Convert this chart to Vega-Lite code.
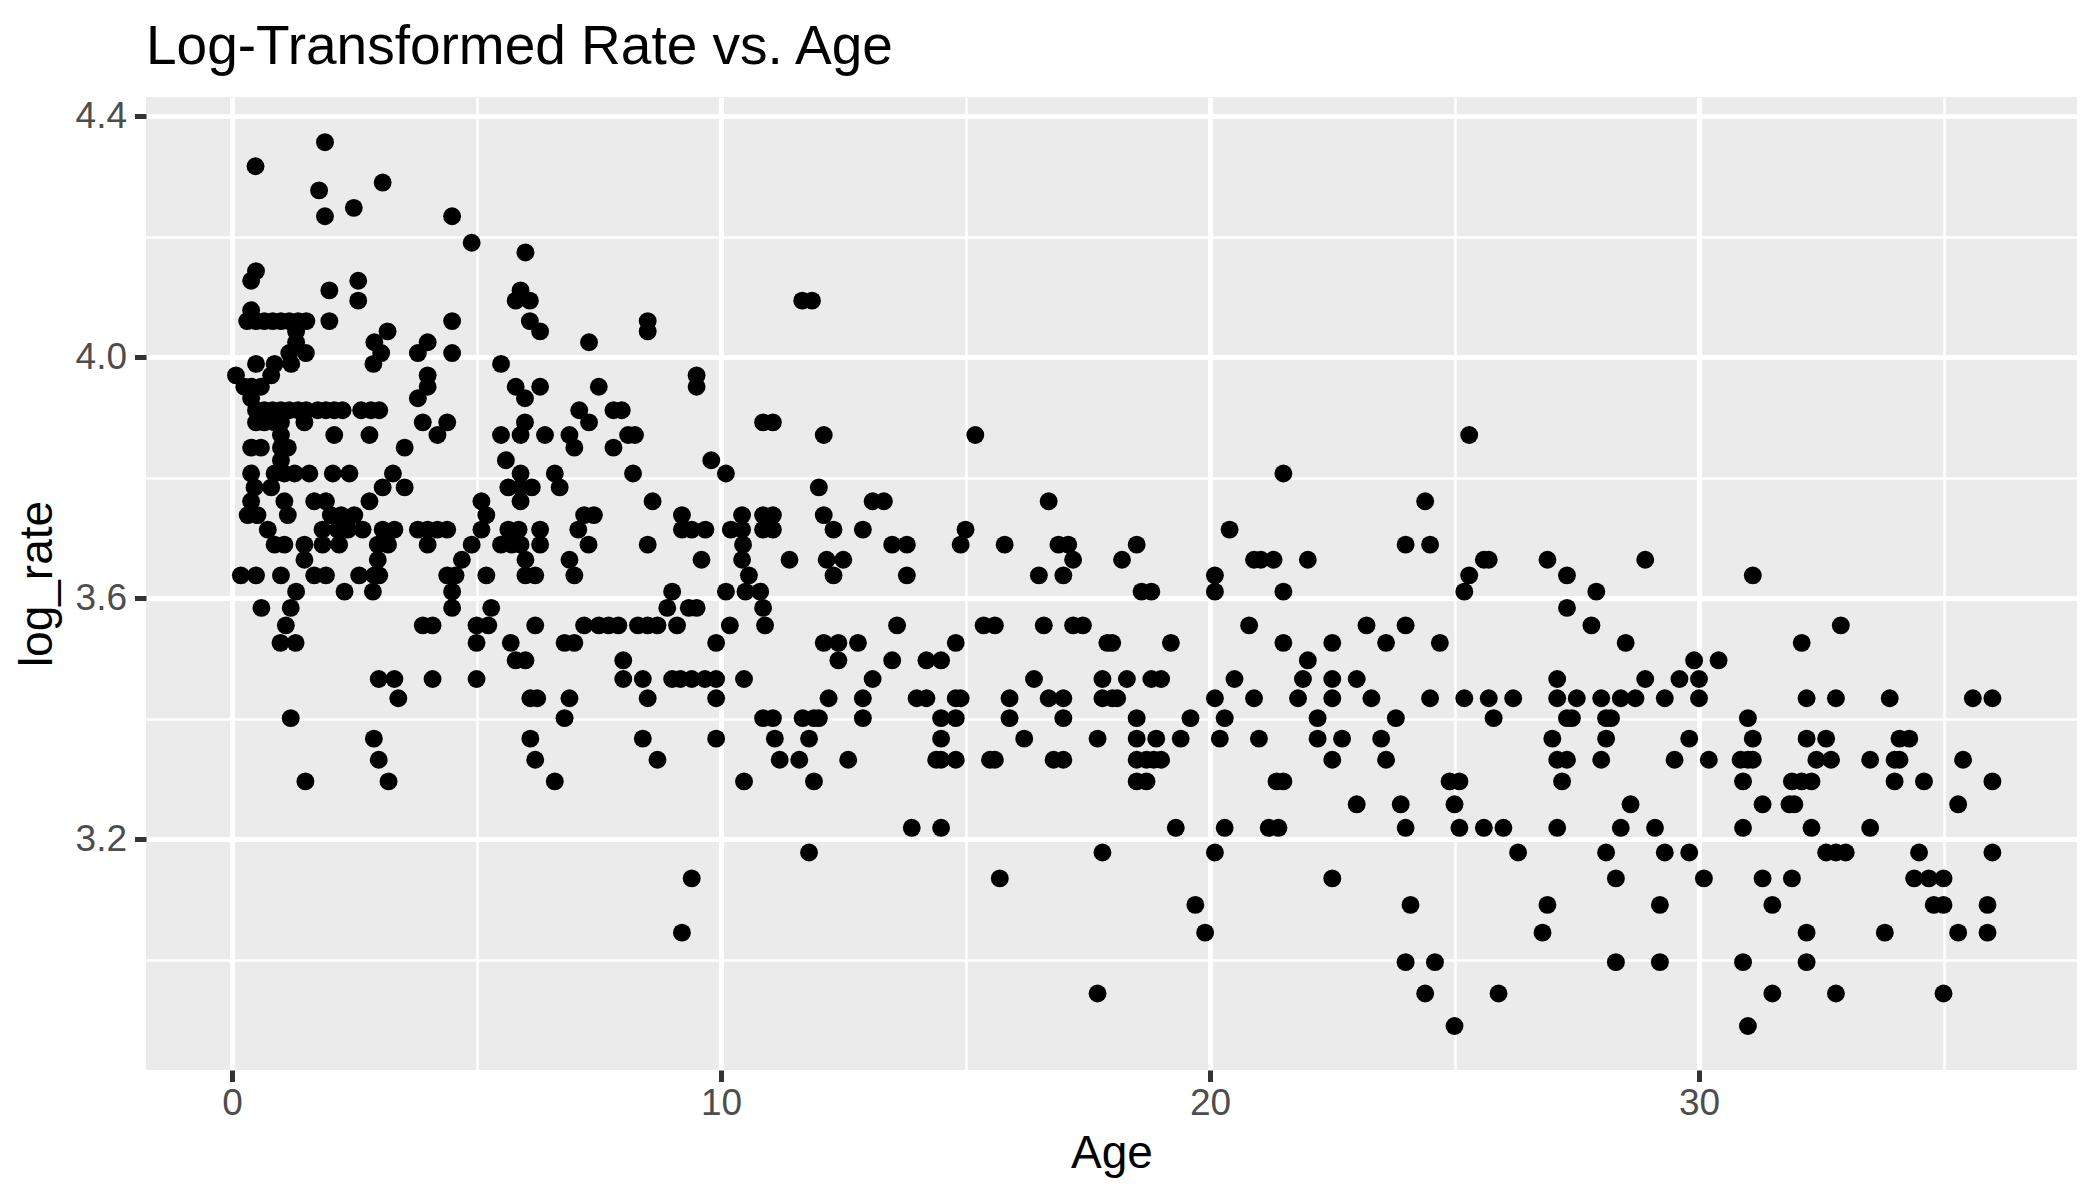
{
  "$schema": "https://vega.github.io/schema/vega-lite/v6.json",
  "width": 1931,
  "height": 973,
  "autosize": "none",
  "padding": {"left": 146, "top": 97, "right": 23, "bottom": 130},
  "background": "white",
  "config": {
    "font": "Liberation Sans",
    "view": {"fill": "#EBEBEB", "stroke": null}
  },
  "title": {
    "text": "Log-Transformed Rate vs. Age",
    "anchor": "start",
    "frame": "group",
    "fontSize": 55,
    "fontWeight": "normal",
    "color": "black",
    "baseline": "alphabetic",
    "offset": -22
  },
  "datasets": {
    "rates": [
      {"Age":1.9,"log_rate":4.357},{"Age":0.48,"log_rate":4.317},{"Age":3.08,"log_rate":4.290},{"Age":1.78,"log_rate":4.277},
      {"Age":2.49,"log_rate":4.248},{"Age":1.9,"log_rate":4.234},{"Age":4.5,"log_rate":4.234},{"Age":4.9,"log_rate":4.190},
      {"Age":6.0,"log_rate":4.174},{"Age":0.49,"log_rate":4.143},{"Age":0.39,"log_rate":4.127},{"Age":2.58,"log_rate":4.127},
      {"Age":1.99,"log_rate":4.111},{"Age":5.9,"log_rate":4.111},
      {"Age":2.58,"log_rate":4.094},{"Age":5.8,"log_rate":4.094},{"Age":6.09,"log_rate":4.094},{"Age":11.66,"log_rate":4.094},{"Age":11.86,"log_rate":4.094},
      {"Age":0.39,"log_rate":4.078},
      {"Age":0.31,"log_rate":4.060},{"Age":0.49,"log_rate":4.060},{"Age":0.66,"log_rate":4.060},{"Age":0.83,"log_rate":4.060},{"Age":1.0,"log_rate":4.060},
      {"Age":1.17,"log_rate":4.060},{"Age":1.35,"log_rate":4.060},{"Age":1.52,"log_rate":4.060},{"Age":1.99,"log_rate":4.060},{"Age":6.09,"log_rate":4.060},
      {"Age":4.5,"log_rate":4.060},{"Age":8.5,"log_rate":4.060},
      {"Age":3.18,"log_rate":4.043},{"Age":1.31,"log_rate":4.043},{"Age":6.3,"log_rate":4.043},{"Age":8.5,"log_rate":4.043},
      {"Age":2.91,"log_rate":4.025},{"Age":1.31,"log_rate":4.025},{"Age":4.0,"log_rate":4.025},{"Age":7.3,"log_rate":4.025},
      {"Age":3.05,"log_rate":4.007},{"Age":1.51,"log_rate":4.007},{"Age":1.17,"log_rate":4.007},{"Age":4.5,"log_rate":4.007},{"Age":3.8,"log_rate":4.007},
      {"Age":2.89,"log_rate":3.989},{"Age":1.21,"log_rate":3.989},{"Age":0.49,"log_rate":3.989},{"Age":0.87,"log_rate":3.989},{"Age":5.5,"log_rate":3.989},
      {"Age":0.8,"log_rate":3.970},{"Age":0.08,"log_rate":3.970},{"Age":4.0,"log_rate":3.970},{"Age":9.5,"log_rate":3.970},
      {"Age":0.25,"log_rate":3.951},{"Age":0.39,"log_rate":3.951},{"Age":0.59,"log_rate":3.951},{"Age":4.0,"log_rate":3.951},{"Age":5.8,"log_rate":3.951},
      {"Age":6.3,"log_rate":3.951},{"Age":7.5,"log_rate":3.951},{"Age":9.5,"log_rate":3.951},
      {"Age":0.39,"log_rate":3.932},{"Age":3.8,"log_rate":3.932},{"Age":5.99,"log_rate":3.932},
      {"Age":0.49,"log_rate":3.912},{"Age":0.66,"log_rate":3.912},{"Age":0.83,"log_rate":3.912},{"Age":1.0,"log_rate":3.912},{"Age":1.17,"log_rate":3.912},
      {"Age":1.35,"log_rate":3.912},{"Age":1.52,"log_rate":3.912},{"Age":1.75,"log_rate":3.912},{"Age":1.92,"log_rate":3.912},{"Age":2.09,"log_rate":3.912},
      {"Age":2.26,"log_rate":3.912},{"Age":2.64,"log_rate":3.912},{"Age":2.84,"log_rate":3.912},{"Age":3.01,"log_rate":3.912},{"Age":7.1,"log_rate":3.912},
      {"Age":7.8,"log_rate":3.912},{"Age":7.97,"log_rate":3.912},
      {"Age":0.49,"log_rate":3.892},{"Age":0.66,"log_rate":3.892},{"Age":0.87,"log_rate":3.892},{"Age":1.0,"log_rate":3.892},{"Age":1.48,"log_rate":3.892},
      {"Age":7.3,"log_rate":3.892},{"Age":3.9,"log_rate":3.892},{"Age":4.4,"log_rate":3.892},{"Age":5.99,"log_rate":3.892},{"Age":10.86,"log_rate":3.892},
      {"Age":11.06,"log_rate":3.892},
      {"Age":1.0,"log_rate":3.871},{"Age":2.09,"log_rate":3.871},{"Age":2.81,"log_rate":3.871},{"Age":4.2,"log_rate":3.871},{"Age":5.5,"log_rate":3.871},
      {"Age":5.9,"log_rate":3.871},{"Age":6.4,"log_rate":3.871},{"Age":6.9,"log_rate":3.871},{"Age":8.1,"log_rate":3.871},{"Age":8.24,"log_rate":3.871},
      {"Age":12.1,"log_rate":3.871},{"Age":15.2,"log_rate":3.871},{"Age":25.3,"log_rate":3.871},
      {"Age":0.39,"log_rate":3.850},{"Age":0.59,"log_rate":3.850},{"Age":1.0,"log_rate":3.850},{"Age":1.14,"log_rate":3.850},{"Age":7.0,"log_rate":3.850},
      {"Age":7.8,"log_rate":3.850},{"Age":3.53,"log_rate":3.850},
      {"Age":1.0,"log_rate":3.829},{"Age":5.6,"log_rate":3.829},{"Age":9.8,"log_rate":3.829},
      {"Age":0.39,"log_rate":3.807},{"Age":0.87,"log_rate":3.807},{"Age":1.07,"log_rate":3.807},{"Age":1.28,"log_rate":3.807},{"Age":1.58,"log_rate":3.807},
      {"Age":2.06,"log_rate":3.807},{"Age":2.4,"log_rate":3.807},{"Age":3.29,"log_rate":3.807},{"Age":10.1,"log_rate":3.807},{"Age":5.9,"log_rate":3.807},
      {"Age":6.6,"log_rate":3.807},{"Age":8.2,"log_rate":3.807},{"Age":21.5,"log_rate":3.807},
      {"Age":0.46,"log_rate":3.784},{"Age":0.8,"log_rate":3.784},{"Age":3.08,"log_rate":3.784},{"Age":3.53,"log_rate":3.784},{"Age":5.65,"log_rate":3.784},
      {"Age":5.9,"log_rate":3.784},{"Age":6.13,"log_rate":3.784},{"Age":6.7,"log_rate":3.784},{"Age":12.0,"log_rate":3.784},
      {"Age":0.39,"log_rate":3.761},{"Age":1.07,"log_rate":3.761},{"Age":1.68,"log_rate":3.761},{"Age":1.92,"log_rate":3.761},{"Age":2.81,"log_rate":3.761},
      {"Age":5.9,"log_rate":3.761},{"Age":5.1,"log_rate":3.761},{"Age":8.6,"log_rate":3.761},{"Age":13.1,"log_rate":3.761},{"Age":13.33,"log_rate":3.761},
      {"Age":16.7,"log_rate":3.761},{"Age":24.4,"log_rate":3.761},
      {"Age":0.32,"log_rate":3.738},{"Age":0.52,"log_rate":3.738},{"Age":1.14,"log_rate":3.738},{"Age":2.02,"log_rate":3.738},{"Age":2.23,"log_rate":3.738},
      {"Age":2.5,"log_rate":3.738},{"Age":5.2,"log_rate":3.738},{"Age":7.2,"log_rate":3.738},{"Age":7.4,"log_rate":3.738},{"Age":9.2,"log_rate":3.738},
      {"Age":10.43,"log_rate":3.738},{"Age":10.86,"log_rate":3.738},{"Age":11.06,"log_rate":3.738},{"Age":12.1,"log_rate":3.738},
      {"Age":0.73,"log_rate":3.714},{"Age":1.85,"log_rate":3.714},{"Age":2.16,"log_rate":3.714},{"Age":2.37,"log_rate":3.714},{"Age":2.67,"log_rate":3.714},
      {"Age":3.08,"log_rate":3.714},{"Age":3.32,"log_rate":3.714},{"Age":3.8,"log_rate":3.714},{"Age":4.0,"log_rate":3.714},{"Age":4.2,"log_rate":3.714},
      {"Age":4.4,"log_rate":3.714},{"Age":5.1,"log_rate":3.714},{"Age":5.65,"log_rate":3.714},{"Age":5.86,"log_rate":3.714},{"Age":6.3,"log_rate":3.714},
      {"Age":7.08,"log_rate":3.714},{"Age":9.2,"log_rate":3.714},{"Age":9.4,"log_rate":3.714},{"Age":9.68,"log_rate":3.714},{"Age":10.2,"log_rate":3.714},
      {"Age":10.43,"log_rate":3.714},{"Age":10.86,"log_rate":3.714},{"Age":11.06,"log_rate":3.714},{"Age":12.3,"log_rate":3.714},{"Age":12.9,"log_rate":3.714},
      {"Age":15.0,"log_rate":3.714},{"Age":20.4,"log_rate":3.714},
      {"Age":0.87,"log_rate":3.689},{"Age":1.07,"log_rate":3.689},{"Age":1.48,"log_rate":3.689},{"Age":1.85,"log_rate":3.689},{"Age":2.19,"log_rate":3.689},
      {"Age":2.98,"log_rate":3.689},{"Age":3.19,"log_rate":3.689},{"Age":4.0,"log_rate":3.689},{"Age":4.9,"log_rate":3.689},{"Age":5.5,"log_rate":3.689},
      {"Age":5.72,"log_rate":3.689},{"Age":5.9,"log_rate":3.689},{"Age":6.3,"log_rate":3.689},{"Age":7.29,"log_rate":3.689},{"Age":8.5,"log_rate":3.689},
      {"Age":10.45,"log_rate":3.689},{"Age":13.5,"log_rate":3.689},{"Age":13.8,"log_rate":3.689},{"Age":14.9,"log_rate":3.689},{"Age":15.8,"log_rate":3.689},
      {"Age":16.9,"log_rate":3.689},{"Age":17.1,"log_rate":3.689},{"Age":18.5,"log_rate":3.689},{"Age":24.0,"log_rate":3.689},{"Age":24.5,"log_rate":3.689},
      {"Age":1.48,"log_rate":3.664},{"Age":2.98,"log_rate":3.664},{"Age":4.7,"log_rate":3.664},{"Age":6.0,"log_rate":3.664},{"Age":6.9,"log_rate":3.664},
      {"Age":9.6,"log_rate":3.664},{"Age":10.43,"log_rate":3.664},{"Age":11.4,"log_rate":3.664},{"Age":12.16,"log_rate":3.664},{"Age":12.5,"log_rate":3.664},
      {"Age":17.2,"log_rate":3.664},{"Age":18.2,"log_rate":3.664},{"Age":20.9,"log_rate":3.664},{"Age":21.04,"log_rate":3.664},{"Age":21.3,"log_rate":3.664},
      {"Age":22.0,"log_rate":3.664},{"Age":25.6,"log_rate":3.664},{"Age":25.7,"log_rate":3.664},{"Age":26.9,"log_rate":3.664},{"Age":28.9,"log_rate":3.664},
      {"Age":0.18,"log_rate":3.638},{"Age":0.49,"log_rate":3.638},{"Age":1.0,"log_rate":3.638},{"Age":1.68,"log_rate":3.638},{"Age":1.92,"log_rate":3.638},
      {"Age":2.6,"log_rate":3.638},{"Age":2.91,"log_rate":3.638},{"Age":3.01,"log_rate":3.638},{"Age":4.4,"log_rate":3.638},{"Age":4.57,"log_rate":3.638},
      {"Age":5.2,"log_rate":3.638},{"Age":6.0,"log_rate":3.638},{"Age":6.2,"log_rate":3.638},{"Age":7.0,"log_rate":3.638},{"Age":10.57,"log_rate":3.638},
      {"Age":12.3,"log_rate":3.638},{"Age":13.8,"log_rate":3.638},{"Age":16.5,"log_rate":3.638},{"Age":17.0,"log_rate":3.638},{"Age":20.1,"log_rate":3.638},
      {"Age":25.3,"log_rate":3.638},{"Age":27.3,"log_rate":3.638},{"Age":31.1,"log_rate":3.638},
      {"Age":1.31,"log_rate":3.611},{"Age":2.3,"log_rate":3.611},{"Age":2.88,"log_rate":3.611},{"Age":4.5,"log_rate":3.611},{"Age":9.0,"log_rate":3.611},
      {"Age":10.1,"log_rate":3.611},{"Age":10.5,"log_rate":3.611},{"Age":10.8,"log_rate":3.611},{"Age":18.6,"log_rate":3.611},{"Age":18.8,"log_rate":3.611},
      {"Age":20.1,"log_rate":3.611},{"Age":21.5,"log_rate":3.611},{"Age":25.2,"log_rate":3.611},{"Age":27.9,"log_rate":3.611},
      {"Age":0.6,"log_rate":3.584},{"Age":1.2,"log_rate":3.584},{"Age":4.5,"log_rate":3.584},{"Age":5.3,"log_rate":3.584},{"Age":8.9,"log_rate":3.584},
      {"Age":9.34,"log_rate":3.584},{"Age":9.5,"log_rate":3.584},{"Age":10.86,"log_rate":3.584},{"Age":27.3,"log_rate":3.584},
      {"Age":1.1,"log_rate":3.555},{"Age":3.9,"log_rate":3.555},{"Age":4.1,"log_rate":3.555},{"Age":5.0,"log_rate":3.555},{"Age":5.24,"log_rate":3.555},
      {"Age":6.2,"log_rate":3.555},{"Age":7.2,"log_rate":3.555},{"Age":7.5,"log_rate":3.555},{"Age":7.7,"log_rate":3.555},{"Age":7.9,"log_rate":3.555},
      {"Age":8.3,"log_rate":3.555},{"Age":8.5,"log_rate":3.555},{"Age":8.7,"log_rate":3.555},{"Age":9.1,"log_rate":3.555},{"Age":10.18,"log_rate":3.555},
      {"Age":10.9,"log_rate":3.555},{"Age":13.6,"log_rate":3.555},{"Age":15.37,"log_rate":3.555},{"Age":15.6,"log_rate":3.555},{"Age":16.6,"log_rate":3.555},
      {"Age":17.2,"log_rate":3.555},{"Age":17.4,"log_rate":3.555},{"Age":20.8,"log_rate":3.555},{"Age":23.2,"log_rate":3.555},{"Age":24.0,"log_rate":3.555},
      {"Age":27.8,"log_rate":3.555},{"Age":32.9,"log_rate":3.555},
      {"Age":0.99,"log_rate":3.526},{"Age":1.3,"log_rate":3.526},{"Age":5.0,"log_rate":3.526},{"Age":5.7,"log_rate":3.526},{"Age":6.8,"log_rate":3.526},
      {"Age":7.0,"log_rate":3.526},{"Age":9.9,"log_rate":3.526},{"Age":12.1,"log_rate":3.526},{"Age":12.4,"log_rate":3.526},{"Age":12.8,"log_rate":3.526},
      {"Age":14.8,"log_rate":3.526},{"Age":17.9,"log_rate":3.526},{"Age":18.0,"log_rate":3.526},{"Age":19.2,"log_rate":3.526},{"Age":21.5,"log_rate":3.526},
      {"Age":22.5,"log_rate":3.526},{"Age":23.6,"log_rate":3.526},{"Age":24.7,"log_rate":3.526},{"Age":28.5,"log_rate":3.526},{"Age":32.1,"log_rate":3.526},
      {"Age":5.8,"log_rate":3.497},{"Age":6.0,"log_rate":3.497},{"Age":8.0,"log_rate":3.497},{"Age":12.4,"log_rate":3.497},{"Age":13.5,"log_rate":3.497},
      {"Age":14.2,"log_rate":3.497},{"Age":14.5,"log_rate":3.497},{"Age":22.0,"log_rate":3.497},{"Age":29.9,"log_rate":3.497},{"Age":30.4,"log_rate":3.497},
      {"Age":3.0,"log_rate":3.466},{"Age":3.32,"log_rate":3.466},{"Age":4.1,"log_rate":3.466},{"Age":5.0,"log_rate":3.466},{"Age":8.0,"log_rate":3.466},
      {"Age":8.4,"log_rate":3.466},{"Age":9.0,"log_rate":3.466},{"Age":9.17,"log_rate":3.466},{"Age":9.4,"log_rate":3.466},{"Age":9.67,"log_rate":3.466},
      {"Age":9.9,"log_rate":3.466},{"Age":10.47,"log_rate":3.466},{"Age":13.1,"log_rate":3.466},{"Age":16.4,"log_rate":3.466},{"Age":17.8,"log_rate":3.466},
      {"Age":18.3,"log_rate":3.466},{"Age":18.8,"log_rate":3.466},{"Age":19.0,"log_rate":3.466},{"Age":20.5,"log_rate":3.466},{"Age":21.9,"log_rate":3.466},
      {"Age":22.5,"log_rate":3.466},{"Age":23.0,"log_rate":3.466},{"Age":27.1,"log_rate":3.466},{"Age":28.9,"log_rate":3.466},{"Age":29.6,"log_rate":3.466},
      {"Age":30.0,"log_rate":3.466},
      {"Age":3.4,"log_rate":3.434},{"Age":6.1,"log_rate":3.434},{"Age":6.24,"log_rate":3.434},{"Age":6.9,"log_rate":3.434},{"Age":8.5,"log_rate":3.434},
      {"Age":9.9,"log_rate":3.434},{"Age":12.2,"log_rate":3.434},{"Age":12.9,"log_rate":3.434},{"Age":14.0,"log_rate":3.434},{"Age":14.2,"log_rate":3.434},
      {"Age":14.8,"log_rate":3.434},{"Age":14.9,"log_rate":3.434},{"Age":15.9,"log_rate":3.434},{"Age":16.7,"log_rate":3.434},{"Age":17.0,"log_rate":3.434},
      {"Age":17.8,"log_rate":3.434},{"Age":18.0,"log_rate":3.434},{"Age":18.1,"log_rate":3.434},{"Age":20.1,"log_rate":3.434},{"Age":20.9,"log_rate":3.434},
      {"Age":21.8,"log_rate":3.434},{"Age":22.5,"log_rate":3.434},{"Age":23.3,"log_rate":3.434},{"Age":24.5,"log_rate":3.434},{"Age":25.2,"log_rate":3.434},
      {"Age":25.7,"log_rate":3.434},{"Age":26.2,"log_rate":3.434},{"Age":27.1,"log_rate":3.434},{"Age":27.5,"log_rate":3.434},{"Age":28.0,"log_rate":3.434},
      {"Age":28.4,"log_rate":3.434},{"Age":28.7,"log_rate":3.434},{"Age":29.3,"log_rate":3.434},{"Age":30.0,"log_rate":3.434},{"Age":32.2,"log_rate":3.434},
      {"Age":32.8,"log_rate":3.434},{"Age":33.9,"log_rate":3.434},{"Age":35.6,"log_rate":3.434},{"Age":36.0,"log_rate":3.434},
      {"Age":1.2,"log_rate":3.401},{"Age":6.8,"log_rate":3.401},{"Age":10.86,"log_rate":3.401},{"Age":11.06,"log_rate":3.401},{"Age":11.67,"log_rate":3.401},
      {"Age":11.9,"log_rate":3.401},{"Age":12.0,"log_rate":3.401},{"Age":12.9,"log_rate":3.401},{"Age":14.5,"log_rate":3.401},{"Age":14.8,"log_rate":3.401},
      {"Age":15.9,"log_rate":3.401},{"Age":17.0,"log_rate":3.401},{"Age":18.5,"log_rate":3.401},{"Age":19.6,"log_rate":3.401},{"Age":20.3,"log_rate":3.401},
      {"Age":22.2,"log_rate":3.401},{"Age":23.8,"log_rate":3.401},{"Age":25.8,"log_rate":3.401},{"Age":27.3,"log_rate":3.401},{"Age":27.4,"log_rate":3.401},
      {"Age":28.1,"log_rate":3.401},{"Age":28.2,"log_rate":3.401},{"Age":31.0,"log_rate":3.401},
      {"Age":2.9,"log_rate":3.367},{"Age":6.1,"log_rate":3.367},{"Age":8.4,"log_rate":3.367},{"Age":9.9,"log_rate":3.367},{"Age":11.1,"log_rate":3.367},
      {"Age":11.8,"log_rate":3.367},{"Age":14.5,"log_rate":3.367},{"Age":16.2,"log_rate":3.367},{"Age":17.7,"log_rate":3.367},{"Age":18.5,"log_rate":3.367},
      {"Age":18.9,"log_rate":3.367},{"Age":19.4,"log_rate":3.367},{"Age":20.2,"log_rate":3.367},{"Age":21.0,"log_rate":3.367},{"Age":22.2,"log_rate":3.367},
      {"Age":22.7,"log_rate":3.367},{"Age":23.5,"log_rate":3.367},{"Age":27.0,"log_rate":3.367},{"Age":28.1,"log_rate":3.367},{"Age":29.8,"log_rate":3.367},
      {"Age":31.1,"log_rate":3.367},{"Age":32.2,"log_rate":3.367},{"Age":32.6,"log_rate":3.367},{"Age":34.1,"log_rate":3.367},{"Age":34.3,"log_rate":3.367},
      {"Age":3.0,"log_rate":3.332},{"Age":6.2,"log_rate":3.332},{"Age":8.7,"log_rate":3.332},{"Age":11.2,"log_rate":3.332},{"Age":11.6,"log_rate":3.332},
      {"Age":12.6,"log_rate":3.332},{"Age":14.4,"log_rate":3.332},{"Age":14.5,"log_rate":3.332},{"Age":14.8,"log_rate":3.332},{"Age":15.5,"log_rate":3.332},
      {"Age":15.6,"log_rate":3.332},{"Age":16.8,"log_rate":3.332},{"Age":17.0,"log_rate":3.332},{"Age":18.5,"log_rate":3.332},{"Age":18.7,"log_rate":3.332},
      {"Age":18.85,"log_rate":3.332},{"Age":19.0,"log_rate":3.332},{"Age":22.5,"log_rate":3.332},{"Age":23.6,"log_rate":3.332},{"Age":27.1,"log_rate":3.332},
      {"Age":27.3,"log_rate":3.332},{"Age":28.0,"log_rate":3.332},{"Age":29.5,"log_rate":3.332},{"Age":30.2,"log_rate":3.332},{"Age":30.85,"log_rate":3.332},
      {"Age":31.0,"log_rate":3.332},{"Age":31.1,"log_rate":3.332},{"Age":32.4,"log_rate":3.332},{"Age":32.7,"log_rate":3.332},{"Age":33.5,"log_rate":3.332},
      {"Age":34.0,"log_rate":3.332},{"Age":34.1,"log_rate":3.332},{"Age":35.4,"log_rate":3.332},
      {"Age":1.5,"log_rate":3.296},{"Age":3.2,"log_rate":3.296},{"Age":6.6,"log_rate":3.296},{"Age":10.47,"log_rate":3.296},{"Age":11.9,"log_rate":3.296},
      {"Age":18.5,"log_rate":3.296},{"Age":18.7,"log_rate":3.296},{"Age":21.36,"log_rate":3.296},{"Age":21.5,"log_rate":3.296},{"Age":24.9,"log_rate":3.296},
      {"Age":25.1,"log_rate":3.296},{"Age":27.2,"log_rate":3.296},{"Age":30.9,"log_rate":3.296},{"Age":31.9,"log_rate":3.296},{"Age":32.1,"log_rate":3.296},
      {"Age":32.3,"log_rate":3.296},{"Age":34.0,"log_rate":3.296},{"Age":34.6,"log_rate":3.296},{"Age":36.0,"log_rate":3.296},
      {"Age":23.0,"log_rate":3.258},{"Age":23.9,"log_rate":3.258},{"Age":25.0,"log_rate":3.258},{"Age":28.6,"log_rate":3.258},{"Age":31.3,"log_rate":3.258},
      {"Age":31.85,"log_rate":3.258},{"Age":31.95,"log_rate":3.258},{"Age":35.3,"log_rate":3.258},
      {"Age":13.9,"log_rate":3.219},{"Age":14.5,"log_rate":3.219},{"Age":19.3,"log_rate":3.219},{"Age":20.3,"log_rate":3.219},{"Age":21.2,"log_rate":3.219},
      {"Age":21.4,"log_rate":3.219},{"Age":24.0,"log_rate":3.219},{"Age":25.1,"log_rate":3.219},{"Age":25.6,"log_rate":3.219},{"Age":26.0,"log_rate":3.219},
      {"Age":27.1,"log_rate":3.219},{"Age":28.4,"log_rate":3.219},{"Age":29.1,"log_rate":3.219},{"Age":30.9,"log_rate":3.219},{"Age":32.3,"log_rate":3.219},
      {"Age":33.5,"log_rate":3.219},
      {"Age":11.8,"log_rate":3.178},{"Age":17.8,"log_rate":3.178},{"Age":20.1,"log_rate":3.178},{"Age":26.3,"log_rate":3.178},{"Age":28.1,"log_rate":3.178},
      {"Age":29.3,"log_rate":3.178},{"Age":29.8,"log_rate":3.178},{"Age":32.6,"log_rate":3.178},{"Age":32.8,"log_rate":3.178},{"Age":33.0,"log_rate":3.178},
      {"Age":34.5,"log_rate":3.178},{"Age":36.0,"log_rate":3.178},
      {"Age":9.4,"log_rate":3.135},{"Age":15.7,"log_rate":3.135},{"Age":22.5,"log_rate":3.135},{"Age":28.3,"log_rate":3.135},{"Age":30.1,"log_rate":3.135},
      {"Age":31.3,"log_rate":3.135},{"Age":31.9,"log_rate":3.135},{"Age":34.4,"log_rate":3.135},{"Age":34.7,"log_rate":3.135},{"Age":35.0,"log_rate":3.135},
      {"Age":19.7,"log_rate":3.091},{"Age":24.1,"log_rate":3.091},{"Age":26.9,"log_rate":3.091},{"Age":29.2,"log_rate":3.091},{"Age":31.5,"log_rate":3.091},
      {"Age":34.8,"log_rate":3.091},{"Age":35.0,"log_rate":3.091},{"Age":35.9,"log_rate":3.091},
      {"Age":9.2,"log_rate":3.045},{"Age":19.9,"log_rate":3.045},{"Age":26.8,"log_rate":3.045},{"Age":32.2,"log_rate":3.045},{"Age":33.8,"log_rate":3.045},
      {"Age":35.3,"log_rate":3.045},{"Age":35.9,"log_rate":3.045},
      {"Age":24.0,"log_rate":2.996},{"Age":24.6,"log_rate":2.996},{"Age":28.3,"log_rate":2.996},{"Age":29.2,"log_rate":2.996},{"Age":30.9,"log_rate":2.996},
      {"Age":32.2,"log_rate":2.996},
      {"Age":17.7,"log_rate":2.944},{"Age":24.4,"log_rate":2.944},{"Age":25.9,"log_rate":2.944},{"Age":31.5,"log_rate":2.944},{"Age":32.8,"log_rate":2.944},
      {"Age":35.0,"log_rate":2.944},
      {"Age":25.0,"log_rate":2.890},{"Age":31.0,"log_rate":2.890}
    ]
  },
  "data": {"name": "rates"},
  "mark": {"type": "circle", "size": 320, "color": "black", "opacity": 1},
  "encoding": {
    "x": {
      "field": "Age",
      "type": "quantitative",
      "scale": {"domain": [-1.76, 37.73], "nice": false, "zero": false},
      "axis": {
        "title": "Age",
        "values": [0, 5, 10, 15, 20, 25, 30, 35],
        "labelExpr": "datum.value % 10 === 0 ? datum.label : ''",
        "domain": false,
        "grid": true,
        "gridColor": "white",
        "gridWidth": {"condition": {"test": "datum.value % 10 === 0", "value": 5}, "value": 2.5},
        "ticks": true,
        "tickColor": "#333333",
        "tickWidth": 5,
        "tickSize": 11.5,
        "tickOpacity": {"condition": {"test": "datum.value % 10 === 0", "value": 1}, "value": 0},
        "labelFontSize": 37,
        "labelColor": "#4D4D4D",
        "labelPadding": 4,
        "titleFontSize": 46,
        "titleFontWeight": "normal",
        "titleColor": "black",
        "titlePadding": 10
      }
    },
    "y": {
      "field": "log_rate",
      "type": "quantitative",
      "scale": {"domain": [2.817, 4.432], "nice": false, "zero": false},
      "axis": {
        "title": "log_rate",
        "values": [3.0, 3.2, 3.4, 3.6, 3.8, 4.0, 4.2, 4.4],
        "labelExpr": "round(datum.value * 10) % 4 === 0 ? format(datum.value, '.1f') : ''",
        "domain": false,
        "grid": true,
        "gridColor": "white",
        "gridWidth": {"condition": {"test": "round(datum.value * 10) % 4 === 0", "value": 5}, "value": 2.5},
        "ticks": true,
        "tickColor": "#333333",
        "tickWidth": 5,
        "tickSize": 11.5,
        "tickOpacity": {"condition": {"test": "round(datum.value * 10) % 4 === 0", "value": 1}, "value": 0},
        "labelFontSize": 37,
        "labelColor": "#4D4D4D",
        "labelPadding": 8,
        "titleFontSize": 46,
        "titleFontWeight": "normal",
        "titleColor": "black",
        "titlePadding": 14
      }
    }
  }
}
